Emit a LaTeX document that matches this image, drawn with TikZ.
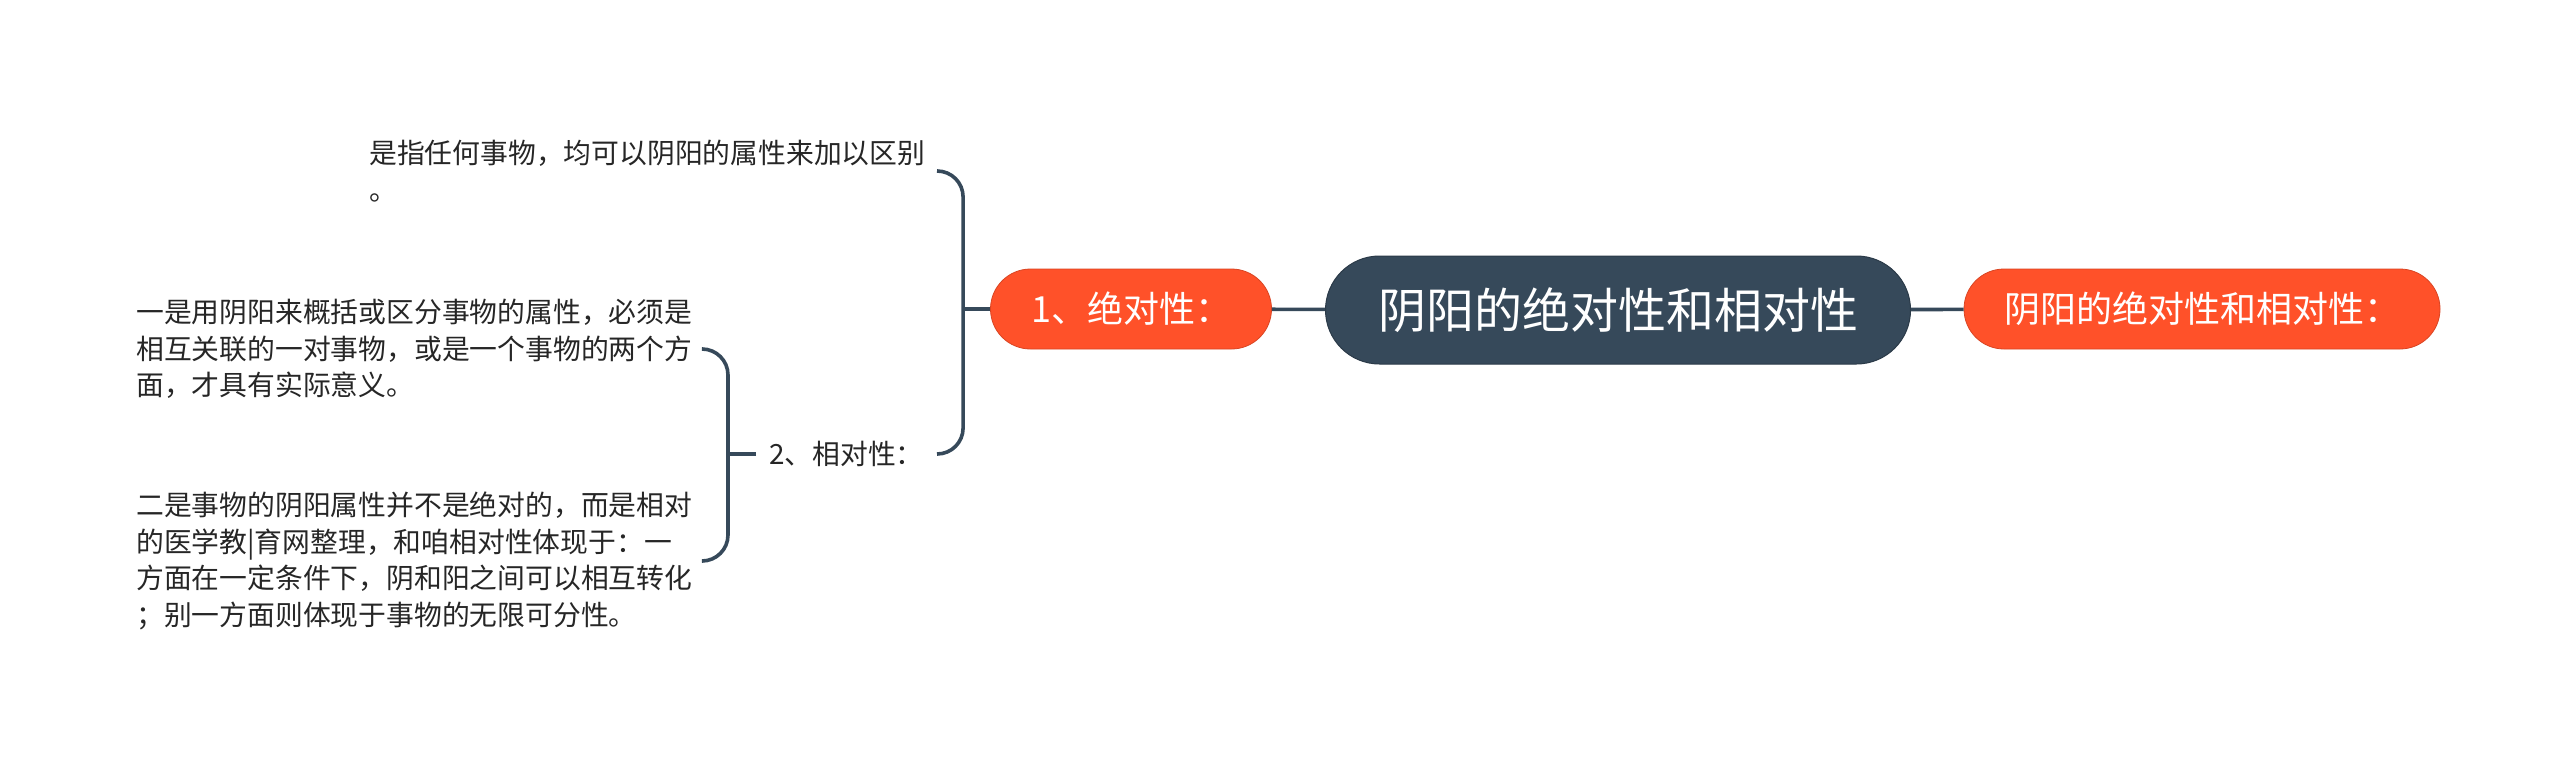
\documentclass[tikz,border=0pt]{standalone}
\usepackage{fontspec}
\setmainfont{Noto Sans CJK SC}
\usetikzlibrary{positioning}
\definecolor{mmdark}{HTML}{36495A}
\definecolor{mmorange}{HTML}{FF5129}

\begin{document}
\begin{tikzpicture}[x=1pt, y=1pt,
  root/.style={draw=mmdark!80!black, line width=1pt, fill=mmdark, text=white, rounded corners=54pt, minimum width=585pt, minimum height=108pt, inner sep=0pt, font=\fontsize{48}{52}\selectfont},
  topic/.style={draw=mmorange!85!black, line width=0.8pt, fill=mmorange, text=white, rounded corners=40pt, minimum height=80pt, inner sep=0pt, font=\fontsize{36}{42}\selectfont},
  leaf/.style={anchor=west, align=left, inner xsep=13pt, inner ysep=3pt, text=black!85, font=\fontsize{27.8}{36.5}\selectfont},
  link/.style={draw=mmdark, line width=3.6pt},
  brace/.style={link, rounded corners=26pt}]
  \path[use as bounding box, fill=white] (0,0) rectangle (2560,-763);
  % main branch
  \node[root] (root) at (1618,-310) {阴阳的绝对性和相对性};
  \node[topic, minimum width=281pt] (abs) at (1131,-309) {1、绝对性：};
  \node[topic, minimum width=476pt] (rt) at (2202,-309) {阴阳的绝对性和相对性：};
  % leaves
  \node[leaf] (top) at (356,-171) {是指任何事物，均可以阴阳的属性来加以区别\\。};
  \node[leaf] (rel) at (756,-454) {2、相对性：};
  \node[leaf] (one) at (123,-349) {一是用阴阳来概括或区分事物的属性，必须是\\相互关联的一对事物，或是一个事物的两个方\\面，才具有实际意义。};
  \node[leaf] (two) at (123,-561) {二是事物的阴阳属性并不是绝对的，而是相对\\的医学教|育网整理，和咱相对性体现于：一\\方面在一定条件下，阴和阳之间可以相互转化\\；别一方面则体现于事物的无限可分性。};
  % links
  \draw[link] (root) -- (abs);
  \draw[link] (root) -- (rt);
  \coordinate (c1) at ([xshift=-27pt]abs.west);
  \coordinate (b1) at ([xshift=-25pt]c1);
  \draw[link] (abs.west) -- (c1);
  \draw[brace] (top.east -| b1) -| (c1) |- (rel.east -| b1);
  \coordinate (c2) at ([xshift=-28pt]rel.west);
  \coordinate (b2) at ([xshift=-25pt]c2);
  \draw[link] (rel.west) -- (c2);
  \draw[brace] (one.east -| b2) -| (c2) |- (two.east -| b2);
\end{tikzpicture}
\end{document}
